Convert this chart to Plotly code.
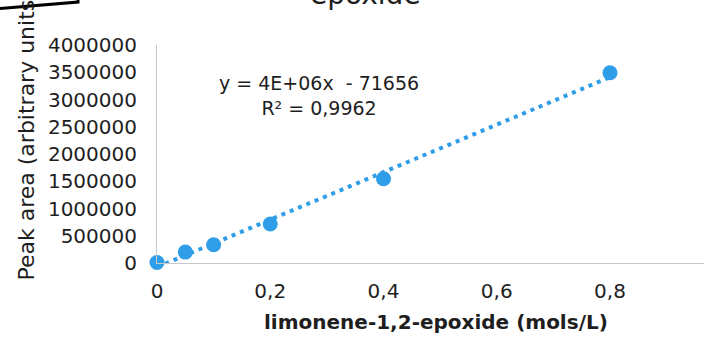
import numpy as np
import plotly.graph_objects as go

# ---- data ----
concentration = [0, 0.05, 0.1, 0.2, 0.4, 0.8]          # mols/L
peak_area = [10000, 200000, 335000, 715000, 1545000, 3490000]
equation_text = "y = 4E+06x  - 71656"
r2_text = "R² = 0,9962"
title_text = "epoxide"
x_title = "limonene-1,2-epoxide (mols/L)"
y_title = "Peak area (arbitrary units)"

# ---- layout geometry (pixels) ----
W, H = 704, 343
L, R, T, B = 157, 0, 45, 80
PW, PH = W - L - R, H - T - B

def px(x):
    return (x - L) / PW

def py(y):
    return (H - B - y) / PH

FONT = "DejaVu Sans"
BLUE = "#2F9DE8"
TXT = "#1e1e1e"

# trendline from least-squares fit of the data
slope, intercept = np.polyfit(concentration, peak_area, 1)
tx = np.array([min(concentration), max(concentration)])
ty = slope * tx + intercept

fig = go.Figure()
fig.add_trace(go.Scatter(
    x=tx, y=ty, mode="lines",
    line=dict(color=BLUE, width=4, dash="4px,5px"),
    hoverinfo="skip", showlegend=False,
))
fig.add_trace(go.Scatter(
    x=concentration, y=peak_area, mode="markers",
    marker=dict(color=BLUE, size=15, line=dict(width=0)),
    cliponaxis=False, showlegend=False,
))

fig.update_layout(
    width=W, height=H,
    margin=dict(l=L, r=R, t=T, b=B, pad=0),
    paper_bgcolor="white", plot_bgcolor="white",
    separators=", ",
    font=dict(family=FONT, color=TXT, size=20),
    showlegend=False,
)
fig.update_xaxes(
    range=[0, PW / 566.25], dtick=0.2, tick0=0,
    showgrid=False, zeroline=False,
    showline=True, linecolor="#C8C8C8", linewidth=1,
    ticks="", ticklabelstandoff=10,
    tickfont=dict(family=FONT, size=20, color=TXT),
)
fig.update_yaxes(
    range=[0, 4000000], dtick=500000, tick0=0, tickformat="d",
    showgrid=False, zeroline=False,
    showline=True, linecolor="#C8C8C8", linewidth=1,
    ticks="", ticklabelstandoff=15,
    tickfont=dict(family=FONT, size=20, color=TXT),
)

annotations = [
    dict(text=equation_text + "<br>" + r2_text, x=px(319), y=py(95),
         xref="paper", yref="paper", xanchor="center", yanchor="middle",
         showarrow=False, align="center",
         font=dict(family=FONT, size=19, color=TXT)),
    dict(text=y_title, x=px(26), y=py(283), textangle=-90,
         xref="paper", yref="paper", xanchor="center", yanchor="bottom",
         showarrow=False, font=dict(family=FONT, size=22, color=TXT)),
    dict(text=title_text, x=px(365), y=py(12.5),
         xref="paper", yref="paper", xanchor="center", yanchor="bottom",
         showarrow=False, font=dict(family=FONT, size=28, color=TXT)),
    dict(text="<b>" + x_title + "</b>", x=px(436), y=py(322),
         xref="paper", yref="paper", xanchor="center", yanchor="middle",
         showarrow=False, font=dict(family=FONT, size=20, color=TXT)),
]
fig.update_layout(annotations=annotations)

fig.add_shape(type="path",
              path=f"M {px(0)} {py(8.5)} L {px(78)} {py(2)} L {px(78)} {py(-2)}",
              xref="paper", yref="paper",
              line=dict(color="black", width=3))

fig.write_html("out.html",
               config={"displayModeBar": False},
               post_script="document.body.style.margin='0px';")
